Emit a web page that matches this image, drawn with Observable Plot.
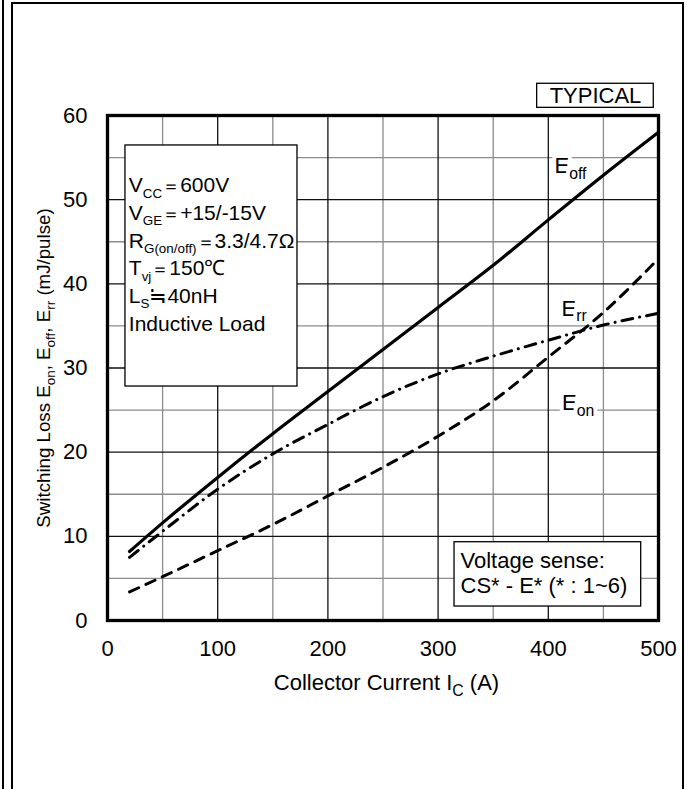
<!DOCTYPE html>
<html>
<head>
<meta charset="utf-8">
<script src="https://cdn.jsdelivr.net/npm/d3@7"></script>
<script src="https://cdn.jsdelivr.net/npm/@observablehq/plot@0.6"></script>
<style>
  html, body { margin: 0; padding: 0; background: #fff; }
  #wrap { position: relative; width: 690px; height: 789px; overflow: hidden; background: #fff; }
  #wrap svg { position: absolute; left: 0; top: 0; }
  .deco { position: absolute; pointer-events: none; box-sizing: border-box; }
</style>
</head>
<body>
<div id="wrap"></div>
<script>
// ---- data ----
const current = [20, 50, 100, 150, 200, 250, 300, 350, 400, 450, 500];
const eoff    = [8.2, 11.6, 17.0, 22.2, 27.2, 32.2, 37.2, 42.2, 47.6, 52.9, 58.0];
const err     = [7.5, 10.6, 15.6, 19.8, 23.3, 26.6, 29.3, 31.4, 33.3, 35.1, 36.5];
const eon     = [3.4, 5.2, 8.3, 11.4, 14.8, 18.2, 21.9, 26.1, 31.3, 36.6, 43.0];

const xTicks = [0, 100, 200, 300, 400, 500];
const yTicks = [0, 10, 20, 30, 40, 50, 60];
const xMinorGrid = [50, 150, 250, 350, 450];
const xMajorGrid = [100, 200, 300, 400];
const yMinorGrid = [5, 15, 25, 35, 45, 55];
const yMajorGrid = [10, 20, 30, 40, 50];

const curveLabels = ["E_{off}", "E_{rr}", "E_{on}"];
const conditionLines = [
  "V_{CC}＝600V",
  "V_{GE}＝+15/-15V",
  "R_{G(on/off)}＝3.3/4.7Ω",
  "T_{vj}＝150℃",
  "L_{S}≒40nH",
  "Inductive Load"
];
const senseLines = ["Voltage sense:", "CS* - E* (* : 1~6)"];
const badge = "TYPICAL";
const xTitle = "Collector Current I_{C} (A)";
const yTitle = "Switching Loss E_{on}, E_{off}, E_{rr} (mJ/pulse)";

// ---- table built from arrays ----
const rows = current.map((c, i) => ({c, eoff: eoff[i], err: err[i], eon: eon[i]}));

const FS = 22;   // general text
const CFS = 21;  // condition box text
const YFS = 18.7; // y-axis title
const one = [0];

const plot = Plot.plot({
  width: 690,
  height: 789,
  marginLeft: 107,
  marginRight: 32,
  marginTop: 115,
  marginBottom: 169,
  style: {fontFamily: "'Liberation Sans', Arial, Helvetica, sans-serif", fontSize: FS + "px", color: "#000", background: "transparent"},
  x: {domain: [0, 500], ticks: xTicks, tickSize: 0, tickPadding: 20, label: null},
  y: {domain: [0, 60], ticks: yTicks, tickSize: 0, tickPadding: 20, label: null},
  marks: [
    Plot.ruleX(xMinorGrid, {stroke: "#8c8c8c", strokeWidth: 1.3}),
    Plot.ruleY(yMinorGrid, {stroke: "#8c8c8c", strokeWidth: 1.3}),
    Plot.ruleX(xMajorGrid, {stroke: "#111", strokeWidth: 1.3}),
    Plot.ruleY(yMajorGrid, {stroke: "#111", strokeWidth: 1.3}),

    Plot.line(rows, {x: "c", y: "eon", curve: "monotone-x", stroke: "#000", strokeWidth: 3, strokeDasharray: "10,8"}),
    Plot.line(rows, {x: "c", y: "err", curve: "monotone-x", stroke: "#000", strokeWidth: 3, strokeDasharray: "11,7,0.1,7", strokeLinecap: "round"}),
    Plot.line(rows, {x: "c", y: "eoff", curve: "monotone-x", stroke: "#000", strokeWidth: 3.2}),

    // annotation boxes
    Plot.rect(one, {x1: () => 16.3, x2: () => 172.4, y1: () => 27.8, y2: () => 56.44, fill: "#fff", stroke: "#000", strokeWidth: 1.3}),
    Plot.rect(one, {x1: () => 314.9, x2: () => 484.3, y1: () => 1.66, y2: () => 9.3, fill: "#fff", stroke: "#000", strokeWidth: 1.3}),
    Plot.rect(one, {x1: () => 389.9, x2: () => 495.7, y1: () => 60.91, y2: () => 63.77, fill: "#fff", stroke: "#000", strokeWidth: 1.3}),

    // curve labels (white halo cuts the grid like the original)
    Plot.text([curveLabels[0]], {frameAnchor: "top-left", text: d => d, textAnchor: "start", lineAnchor: "middle", dx: 447, dy: 50.5, fontSize: FS, fill: "#000", stroke: "#fff", strokeWidth: 8}),
    Plot.text([curveLabels[1]], {frameAnchor: "top-left", text: d => d, textAnchor: "start", lineAnchor: "middle", dx: 454, dy: 193, fontSize: FS, fill: "#000", stroke: "#fff", strokeWidth: 8}),
    Plot.text([curveLabels[2]], {frameAnchor: "top-left", text: d => d, textAnchor: "start", lineAnchor: "middle", dx: 454.5, dy: 287.5, fontSize: FS, fill: "#000", stroke: "#fff", strokeWidth: 8}),

    // condition text
    ...conditionLines.map((t, i) => Plot.text([t], {frameAnchor: "top-left", text: d => d, textAnchor: "start", lineAnchor: "top", dx: 21.3, dy: 61.7 + 27.7 * i, fontSize: CFS, fill: "#000"})),
    ...senseLines.map((t, i) => Plot.text([t], {frameAnchor: "top-left", text: d => d, textAnchor: "start", lineAnchor: "top", dx: 353, dy: 436.7 + 25 * i, fontSize: FS, fill: "#000"})),
    Plot.text([badge], {frameAnchor: "top", text: d => d, textAnchor: "middle", lineAnchor: "middle", dx: 212.5, dy: -19.7, fontSize: FS, fill: "#000"}),

    // axis titles
    Plot.text([xTitle], {frameAnchor: "bottom", text: d => d, textAnchor: "middle", lineAnchor: "middle", dx: 3.5, dy: 62.5, fontSize: FS, fill: "#000"}),
    Plot.text([yTitle], {frameAnchor: "left", text: d => d, textAnchor: "middle", lineAnchor: "middle", rotate: -90, dx: -63, dy: 0, fontSize: YFS, fill: "#000"}),

    Plot.frame({stroke: "#000", strokeWidth: 3.3})
  ]
});

// subscripts: turn "X_{sub}" into tspans; narrow the full-width equals a little
function applySubs(svg) {
  const NS = "http://www.w3.org/2000/svg";
  svg.querySelectorAll("text").forEach(t => {
    const s = t.textContent;
    if (!s.includes("_{") && !s.includes("＝")) return;
    const isCond = conditionLines.includes(s);
    const base = s === yTitle ? YFS : isCond ? CFS : FS;
    const ratio = isCond ? 0.64 : 0.72;
    const tokens = s.split(/(_\{[^}]*\}|＝)/).filter(p => p !== "");
    while (t.firstChild) t.removeChild(t.firstChild);
    let shifted = false;
    const sh = 0.26 * base;
    tokens.forEach(p => {
      const ts = document.createElementNS(NS, "tspan");
      const m = p.match(/^_\{([^}]*)\}$/);
      if (m) {
        ts.textContent = m[1];
        ts.setAttribute("font-size", (ratio * base).toFixed(1));
        if (!shifted) ts.setAttribute("dy", sh.toFixed(1));
        shifted = true;
      } else {
        ts.textContent = p;
        if (p === "＝") ts.setAttribute("font-size", (0.85 * base).toFixed(1));
        if (shifted) { ts.setAttribute("dy", (-sh).toFixed(1)); shifted = false; }
      }
      t.appendChild(ts);
    });
  });
}
applySubs(plot);

const wrap = document.getElementById("wrap");
wrap.appendChild(plot);

// outer page frame lines
const d1 = document.createElement("div");
d1.className = "deco";
Object.assign(d1.style, {left: "2px", top: "0px", width: "2px", height: "789px", background: "#000"});
const d2 = document.createElement("div");
d2.className = "deco";
Object.assign(d2.style, {left: "11px", top: "2px", width: "673px", height: "900px", border: "2px solid #000"});
wrap.appendChild(d1);
wrap.appendChild(d2);
</script>
</body>
</html>
